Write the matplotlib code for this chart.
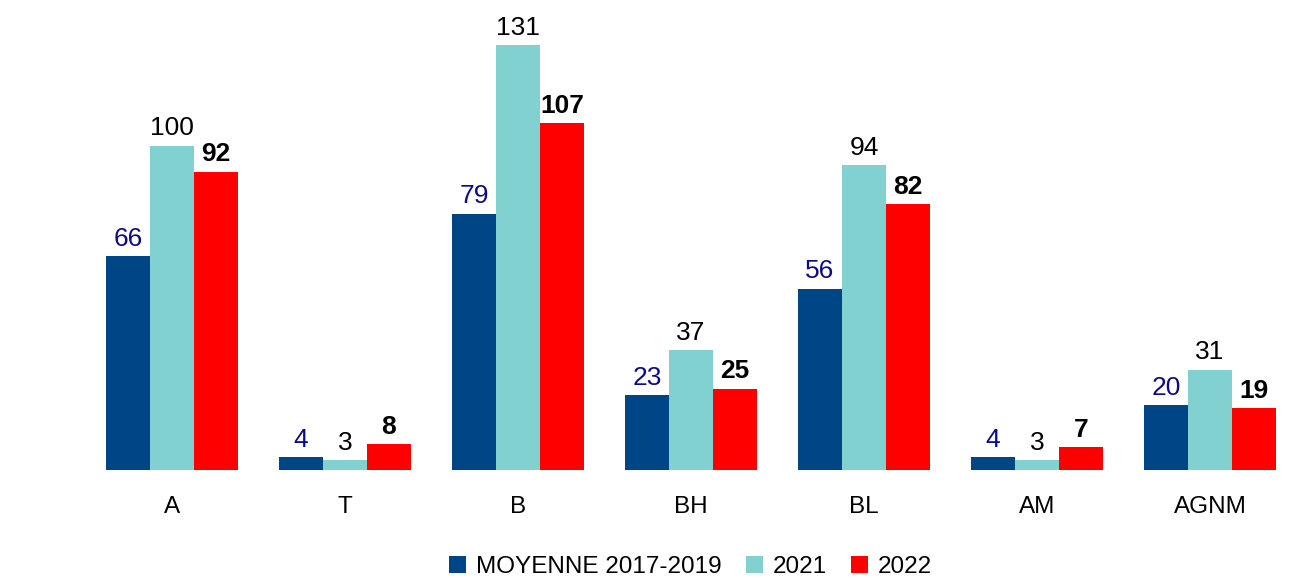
import matplotlib.pyplot as plt
import numpy as np

categories = ["A", "T", "B", "BH", "BL", "AM", "AGNM"]
moyenne = [66, 4, 79, 23, 56, 4, 20]
y2021 = [100, 3, 131, 37, 94, 3, 31]
y2022 = [92, 8, 107, 25, 82, 7, 19]
series_names = ["MOYENNE 2017-2019", "2021", "2022"]

plt.rcParams["font.family"] = ["Liberation Sans", "DejaVu Sans"]

fig = plt.figure(figsize=(13.03, 5.81), dpi=100)
ax = fig.add_axes([0.0656, 0.191, 0.9294, 0.809])

x = np.arange(len(categories))
w = 0.254
colors = ["#004586", "#80D1D0", "#FF0000"]
label_styles = [
    dict(color="#0A0A8C", fontweight="normal"),
    dict(color="black", fontweight="normal"),
    dict(color="black", fontweight="bold"),
]

for i, (vals, name) in enumerate(zip([moyenne, y2021, y2022], series_names)):
    bars = ax.bar(x + (i - 1) * w, vals, w, color=colors[i], label=name)
    for b, v in zip(bars, vals):
        ax.annotate(str(v), (b.get_x() + b.get_width() / 2, v),
                    xytext=(0, 4), textcoords="offset points",
                    ha="center", va="bottom", fontsize=19, **label_styles[i])

ax.set_xlim(-0.5, len(categories) - 0.5)
ax.set_ylim(0, 145)
ax.set_xticks(x)
ax.set_xticklabels(categories, fontsize=17.5)
ax.tick_params(axis="x", length=0, pad=19)
ax.set_yticks([])
for s in ax.spines.values():
    s.set_visible(False)

fig.legend(loc="center", bbox_to_anchor=(0.53, 0.024), ncol=3, frameon=False,
           fontsize=17.5, handlelength=0.7, handleheight=0.7,
           handletextpad=0.4, columnspacing=1.0)

fig.savefig("out.png", dpi=100)
